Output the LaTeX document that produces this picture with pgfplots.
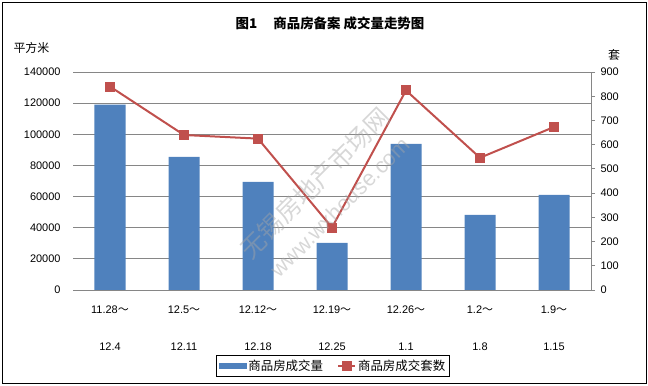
\documentclass[border=0pt]{standalone}
\usepackage{pgfplots}
\pgfplotsset{compat=1.18}
\usepackage{fontspec}
\setmainfont{Liberation Sans}
\newfontfamily\cjk{Noto Sans CJK SC}
\definecolor{barblue}{HTML}{4F81BD}
\definecolor{linered}{HTML}{C0504D}
\definecolor{gridgray}{HTML}{868686}
\begin{document}
\begin{tikzpicture}[font=\fontsize{11}{13}\selectfont]
\useasboundingbox (0,0) rectangle (648bp,386bp);
\draw[black, line width=0.8bp] (2bp,3bp) rectangle (646bp,384bp);
\begin{axis}[
  at={(73bp,96bp)}, anchor=south west, scale only axis,
  width=518bp, height=218bp,
  xmin=-0.5, xmax=6.5, ymin=0, ymax=140000,
  ytick={0,20000,40000,60000,80000,100000,120000,140000},
  scaled y ticks=false,
  yticklabel={\pgfmathprintnumber[fixed,precision=0,1000 sep={},assume math mode=true]{\tick}},
  axis x line*=bottom, axis y line*=left,
  y axis line style={draw=none},
  x axis line style={gridgray, line width=0.8bp, -},
  ymajorgrids, grid style={gridgray, line width=0.8bp},
  major tick length=0pt,
  yticklabel style={xshift=-9bp},
  xtick={0,1,2,3,4,5,6},
  xticklabels={{11.28{\cjk ～}\\[24bp]12.4},{12.5{\cjk ～}\\[24bp]12.11},{12.12{\cjk ～}\\[24bp]12.18},{12.19{\cjk ～}\\[24bp]12.25},{12.26{\cjk ～}\\[24bp]1.1},{1.2{\cjk ～}\\[24bp]1.8},{1.9{\cjk ～}\\[24bp]1.15}},
  xticklabel style={align=center, yshift=-12bp},
  ybar, bar width=31bp,
]
\addplot[fill=barblue, draw=none] coordinates {(0,119000) (1,85500) (2,69400) (3,30200) (4,93900) (5,48200) (6,61100)};
\end{axis}
\begin{axis}[
  at={(73bp,96bp)}, anchor=south west, scale only axis,
  width=518bp, height=218bp,
  xmin=-0.5, xmax=6.5, ymin=0, ymax=900,
  ytick={0,100,200,300,400,500,600,700,800,900},
  yticklabel={\pgfmathprintnumber[fixed,precision=0,1000 sep={},assume math mode=true]{\tick}},
  axis x line=none, axis y line*=right,
  y axis line style={gridgray, line width=0.8bp, -},
  tick style={gridgray, line width=0.8bp},
  ytick align=outside, major tick length=4bp,
  yticklabel style={xshift=2bp},
  legend columns=2,
  legend style={at={(0.502,-0.349)}, anchor=center, draw=black, line width=0.6bp,
    font=\cjk\fontsize{12.5}{14}\selectfont, inner sep=2.5bp,
    /tikz/every even column/.append style={column sep=12bp}},
]
\addlegendimage{legend image code/.code={\fill[barblue] (0cm,-0.09cm) rectangle (0.95cm,0.09cm);}}
\addlegendentry{商品房成交量}
\addplot[color=linered, line width=2bp, mark=square*, mark size=4.5bp, mark options={fill=linered, draw=linered, line width=0bp}] coordinates {(0,840) (1,640) (2,625) (3,258) (4,824) (5,546) (6,673)};
\addlegendentry{商品房成交套数}
\end{axis}
\node[font=\cjk\bfseries\fontsize{13.5}{15}\selectfont] at (330bp,363bp) {图1\hspace{1.2em}商品房备案 成交量走势图};
\node[font=\cjk\fontsize{12}{14}\selectfont, anchor=west] at (10bp,338bp) {平方米};
\node[font=\cjk\fontsize{12}{14}\selectfont] at (614bp,331bp) {套};
\begin{scope}[opacity=0.45, gray!70]
\node[rotate=45, inner sep=0pt, font=\cjk\fontsize{25}{27}\selectfont] at (315bp,203bp) {无锡房地产市场网};
\node[rotate=45, inner sep=0pt, font=\fontsize{22}{24}\selectfont] at (340bp,179bp) {www.wxhouse.com};
\end{scope}
\end{tikzpicture}
\end{document}
